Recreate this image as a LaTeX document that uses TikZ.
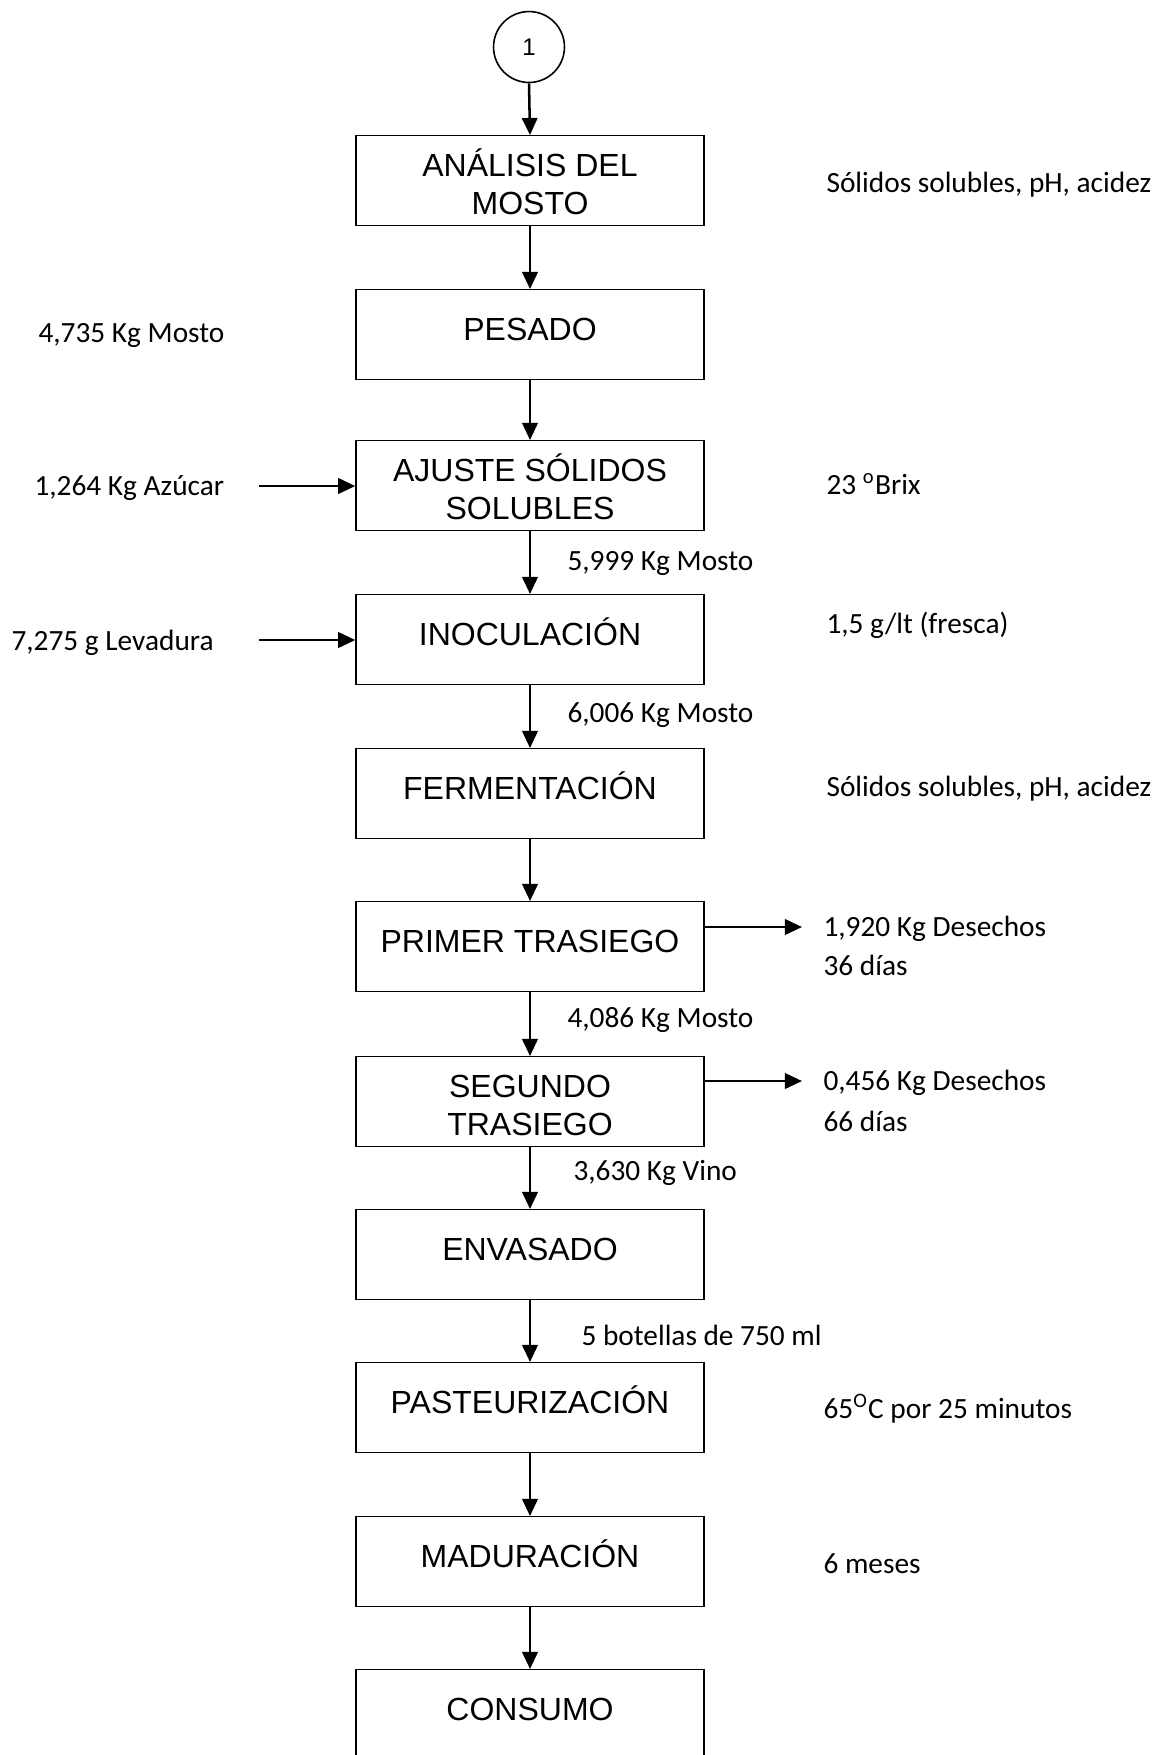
\documentclass[tikz,border=0pt]{standalone}
\usepackage{fontspec}
\setmainfont{Liberation Sans}
\newfontfamily\calibri{Carlito}
\usetikzlibrary{arrows.meta,shapes.geometric}

\begin{document}
\begin{tikzpicture}[x=0.375pt,y=-0.375pt,
  stepbox/.style={draw, line width=0.55pt, minimum width=130.5pt,
    inner xsep=0pt, inner ysep=0pt, anchor=north, align=center,
    font=\fontsize{12}{14.25}\selectfont},
  oneline/.style={stepbox, text height=18.94pt, text depth=14.81pt},
  twoline/.style={stepbox, text height=29.44pt, text depth=4.31pt},
  flow/.style={line width=0.95pt, -{Triangle[length=6.4pt,width=5.8pt]}},
  note/.style={anchor=base west, inner sep=0pt,
    font=\calibri\fontsize{11}{13.2}\selectfont},
]
\useasboundingbox (0,0) rectangle (1167,1755);
\clip (0,0) rectangle (1167,1755);

% connector symbol
\node[circle, draw, line width=0.6pt, minimum size=26.6pt, inner sep=0pt,
  font=\fontsize{9}{10.8}\selectfont] (c1) at (529,47) {1};

% process steps
\node[twoline] (b1)  at (530,135)  {ANÁLISIS DEL\\MOSTO};
\node[oneline] (b2)  at (530,289)  {PESADO};
\node[twoline] (b3)  at (530,440)  {AJUSTE SÓLIDOS\\SOLUBLES};
\node[oneline] (b4)  at (530,594)  {INOCULACIÓN};
\node[oneline] (b5)  at (530,748)  {FERMENTACIÓN};
\node[oneline] (b6)  at (530,901)  {PRIMER TRASIEGO};
\node[twoline] (b7)  at (530,1056) {SEGUNDO\\TRASIEGO};
\node[oneline] (b8)  at (530,1209) {ENVASADO};
\node[oneline] (b9)  at (530,1362) {PASTEURIZACIÓN};
\node[oneline] (b10) at (530,1516) {MADURACIÓN};
\node[oneline] (b11) at (530,1669) {CONSUMO};

% main flow
\draw[flow] (c1.south) -- (b1.north);
\draw[flow] (b1) -- (b2);
\draw[flow] (b2) -- (b3);
\draw[flow] (b3) -- (b4);
\draw[flow] (b4) -- (b5);
\draw[flow] (b5) -- (b6);
\draw[flow] (b6) -- (b7);
\draw[flow] (b7) -- (b8);
\draw[flow] (b8) -- (b9);
\draw[flow] (b9) -- (b10);
\draw[flow] (b10) -- (b11);

% inputs
\coordinate (in1) at (259,486);
\coordinate (in2) at (259,640);
\draw[flow] (in1) -- (b3.west |- in1);
\draw[flow] (in2) -- (b4.west |- in2);

% outputs
\coordinate (out1) at (802,927);
\coordinate (out2) at (802,1081);
\draw[flow] (b6.east |- out1) -- (out1);
\draw[flow] (b7.east |- out2) -- (out2);

% left annotations
\node[note] (l1) at (38,342)  {4,735 Kg Mosto};
\node[note] (l2) at (34,495)  {1,264 Kg Azúcar};
\node[note] (l3) at (11,650)  {7,275 g Levadura};

% flow quantities
\node[note] (m1) at (567,570)  {5,999 Kg Mosto};
\node[note] (m2) at (567,722)  {6,006 Kg Mosto};
\node[note] (m3) at (567,1027) {4,086 Kg Mosto};
\node[note] (m4) at (573,1180) {3,630 Kg Vino};
\node[note] (m5) at (581,1345) {5 botellas de 750 ml};

% right annotations
\node[note] (r1) at (826,192)  {Sólidos solubles, pH, acidez};
\node[note] (r2) at (826,494)  {23 \textsuperscript{o}Brix};
\node[note] (r3) at (826,633)  {1,5 g/lt (fresca)};
\node[note] (r4) at (826,796)  {Sólidos solubles, pH, acidez};
\node[note] (r5) at (823,936)  {1,920 Kg Desechos};
\node[note] (r6) at (823,975)  {36 días};
\node[note] (r7) at (823,1090) {0,456 Kg Desechos};
\node[note] (r8) at (823,1131) {66 días};
\node[note] (r9) at (823,1418) {65\textsuperscript{O}C por 25 minutos};
\node[note] (r10) at (823,1573) {6 meses};
\end{tikzpicture}
\end{document}
